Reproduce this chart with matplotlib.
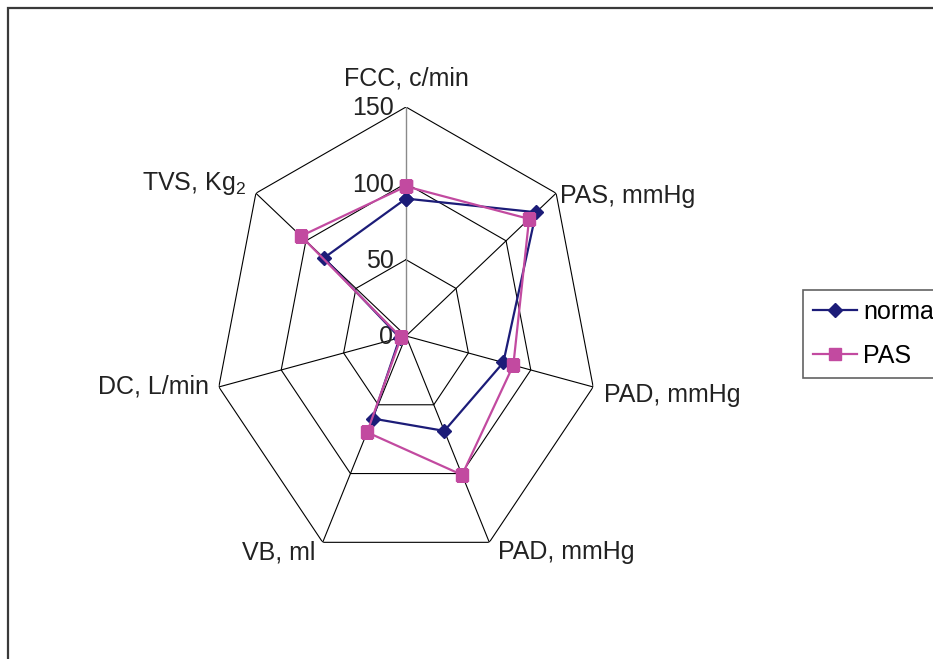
import numpy as np
import matplotlib
matplotlib.use("Agg")
import matplotlib.pyplot as plt
from matplotlib.patches import Rectangle

plt.rcParams['font.family'] = ['Liberation Sans', 'DejaVu Sans']
plt.rcParams['mathtext.fontset'] = 'custom'
plt.rcParams['mathtext.rm'] = 'Liberation Sans'
plt.rcParams['mathtext.it'] = 'Liberation Sans'

categories = ["FCC, c/min", "PAS, mmHg", "PAD, mmHg", "PAD, mmHg", "VB, ml", "DC, L/min", "TVS, Kg$_2$"]
normal_vals = [90, 130, 78, 69, 60, 5, 82]
pas_vals = [98, 123, 86, 101, 70, 4, 105]
ring_levels = [50, 100, 150]
tick_labels = ["0", "50", "100", "150"]
series_names = ["normal", "PAS"]

FS = 18
W, H = 933, 659
fig = plt.figure(figsize=(W / 100, H / 100), dpi=100)

# outer chart frame (cropped Excel chart area)
fig.patches.append(Rectangle((8 / W, -0.5), 2.0, 1 - 8 / H + 0.5, transform=fig.transFigure,
                             fill=False, edgecolor='#3a3a3a', linewidth=1.6))

cx, cy, rx, ry = 406, 336, 192, 229
ax = fig.add_axes([(cx - rx) / W, (H - cy - ry) / H, 2 * rx / W, 2 * ry / H], projection='polar')
ax.set_aspect('auto')
ax.set_theta_zero_location('N')
ax.set_theta_direction(-1)
ax.set_ylim(0, 150)
ax.grid(False)
ax.spines['polar'].set_visible(False)
ax.set_xticks([])
ax.set_yticks([])
ax.patch.set_alpha(0)

n = len(categories)
theta = np.arange(n) * 2 * np.pi / n
theta_c = np.append(theta, theta[0])

# polygon grid
for lv in ring_levels:
    ax.plot(theta_c, [lv] * (n + 1), color='black', lw=0.8, zorder=1)
# spokes
for i, t in enumerate(theta):
    ax.plot([t, t], [0, 150], color='#8a8a8a' if i == 0 else 'black',
            lw=1.0 if i == 0 else 0.8, zorder=1)

# value labels on the first axis
for lv, lab in zip([0] + ring_levels, tick_labels):
    ax.annotate(lab, xy=(0, lv), xytext=(-9, -1), textcoords='offset points',
                ha='right', va='center', fontsize=FS, color='#222222')

# category labels
offsets = [(0, 12, 'center', 'bottom'), (3, -2, 'left', 'center'), (8, -6, 'left', 'center'),
           (6, -7, 'left', 'center'), (-5, -7, 'right', 'center'), (-7, 0, 'right', 'center'),
           (-7, 7, 'right', 'center')]
for t, lab, (dx, dy, ha, va) in zip(theta, categories, offsets):
    ax.annotate(lab, xy=(t, 150), xytext=(dx, dy), textcoords='offset points',
                ha=ha, va=va, fontsize=FS, color='#222222')

l1, = ax.plot(theta_c, normal_vals + [normal_vals[0]], color='#1c1c78', lw=1.6,
              marker='D', markersize=7.5, label=series_names[0], zorder=3)
l2, = ax.plot(theta_c, pas_vals + [pas_vals[0]], color='#c24aa0', lw=1.6,
              marker='s', markersize=8, label=series_names[1], zorder=4)

leg = fig.legend(handles=[l1, l2], loc='upper left', bbox_to_anchor=(803 / W, 1 - 290 / H),
                 borderaxespad=0, fontsize=FS, frameon=True, fancybox=False, handlelength=1.75,
                 handletextpad=0.25, labelspacing=0.8, borderpad=0.4)
leg.get_frame().set_edgecolor('#3a3a3a')
leg.get_frame().set_linewidth(1.2)

fig.savefig('out.png', dpi=100)
